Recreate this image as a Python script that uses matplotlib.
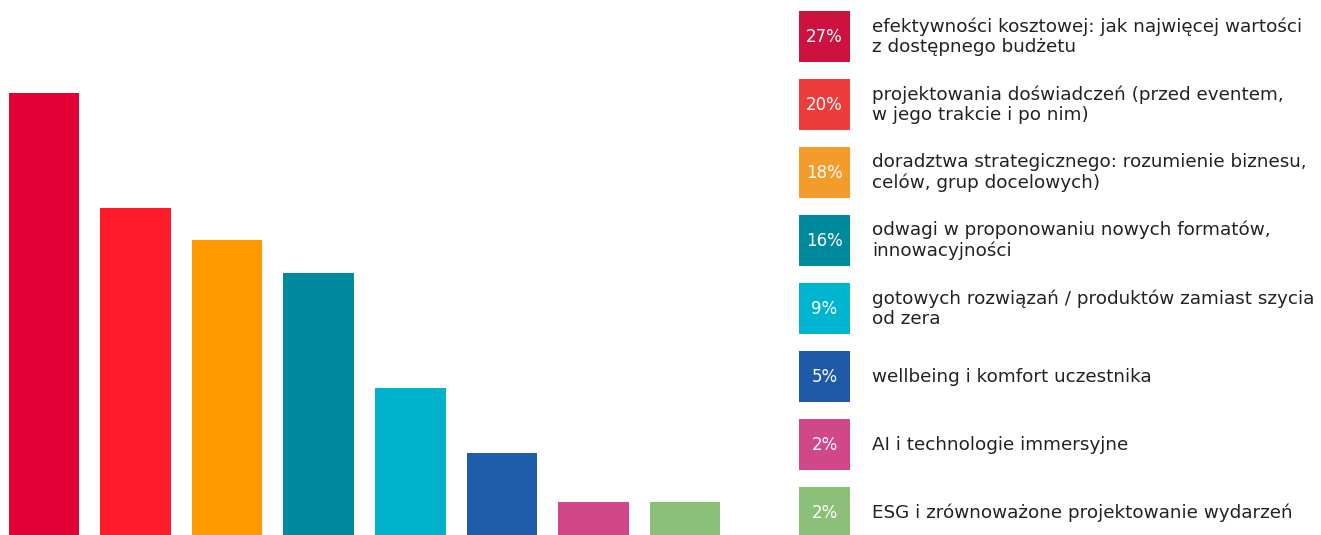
import matplotlib
matplotlib.use("Agg")
from matplotlib import pyplot as plt
from matplotlib.patches import Rectangle

# share of answers per expectation, in percent
values = [27, 20, 18, 16, 9, 5, 2, 2]
labels = [
    "efektywności kosztowej: jak najwięcej wartości\nz dostępnego budżetu",
    "projektowania doświadczeń (przed eventem,\nw jego trakcie i po nim)",
    "doradztwa strategicznego: rozumienie biznesu,\ncelów, grup docelowych)",
    "odwagi w proponowaniu nowych formatów,\ninnowacyjności",
    "gotowych rozwiązań / produktów zamiast szycia\nod zera",
    "wellbeing i komfort uczestnika",
    "AI i technologie immersyjne",
    "ESG i zrównoważone projektowanie wydarzeń",
]
bar_colors = ["#E00034", "#FF1A2B", "#FF9900", "#008A9E",
              "#00B2CC", "#1E5DAA", "#D0478A", "#8AC077"]
box_colors = ["#CE1240", "#EE3B3B", "#F39C2A", "#008A9E",
              "#00B5CF", "#1E5AA8", "#D0478A", "#8CC078"]

W, H = 1321, 535
FONT = ["DejaVu Sans"]


def main() -> None:
    plt.rcParams["font.family"] = FONT
    fig = plt.figure(figsize=(W / 100, H / 100), dpi=100)

    # bar chart on the left, axes placed in pixel units
    px_per_bar = 91.57
    left_px, right_px = 0, 735
    ax = fig.add_axes([left_px / W, 0, (right_px - left_px) / W, 1])
    x0 = -44 / px_per_bar
    ax.set_xlim(x0, x0 + (right_px - left_px) / px_per_bar)
    ax.set_ylim(0, 27 * H / (H - 93))
    ax.bar(range(len(values)), values, width=0.77, color=bar_colors)
    ax.axis("off")

    # legend boxes with percentages, in pixel coordinates
    leg = fig.add_axes([0, 0, 1, 1])
    leg.set_xlim(0, W)
    leg.set_ylim(H, 0)
    leg.axis("off")
    for i, (v, lab, c) in enumerate(zip(values, labels, box_colors)):
        top = 11 + 68 * i
        leg.add_patch(Rectangle((799, top), 51, 51, color=c, lw=0))
        cy = top + 25.5
        leg.text(824.5, cy + 1, f"{v}%", color="white", fontsize=12,
                 ha="center", va="center")
        leg.text(872, cy, lab, color="#222222", fontsize=13.2,
                 ha="left", va="center", linespacing=1.15)

    fig.savefig("out.png", dpi=100)


if __name__ == "__main__":
    main()
